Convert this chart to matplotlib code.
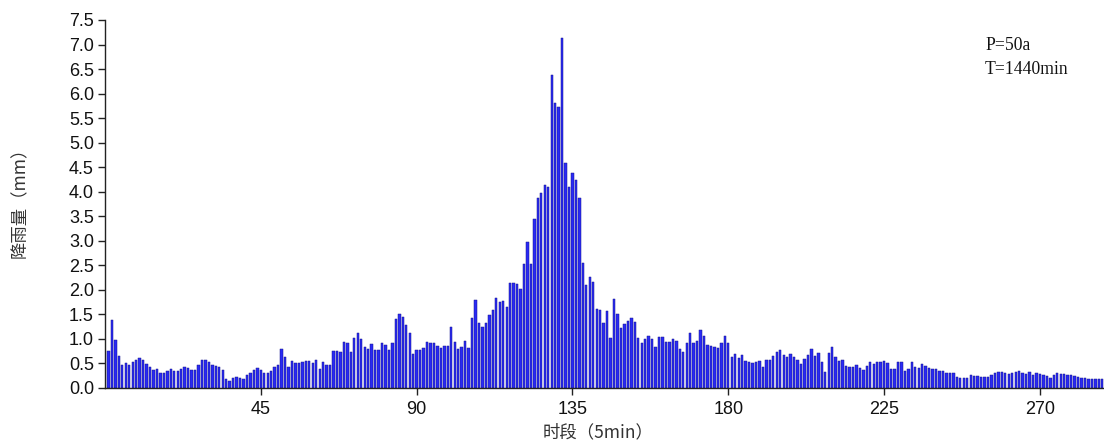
import numpy as np
import matplotlib
matplotlib.use("Agg")
import matplotlib.pyplot as plt
from matplotlib.ticker import FormatStrFormatter

# ---- data -------------------------------------------------------------
rain_mm = [
    0.75, 1.38, 0.98, 0.65, 0.47, 0.51, 0.46, 0.53, 0.57, 0.62,
    0.58, 0.48, 0.42, 0.36, 0.39, 0.31, 0.31, 0.35, 0.39, 0.35,
    0.35, 0.39, 0.43, 0.41, 0.37, 0.36, 0.46, 0.57, 0.58, 0.54,
    0.47, 0.45, 0.42, 0.37, 0.18, 0.15, 0.21, 0.23, 0.21, 0.18,
    0.26, 0.31, 0.36, 0.41, 0.37, 0.30, 0.30, 0.35, 0.43, 0.47,
    0.79, 0.63, 0.43, 0.55, 0.50, 0.50, 0.52, 0.55, 0.55, 0.50,
    0.57, 0.38, 0.52, 0.47, 0.46, 0.75, 0.75, 0.73, 0.94, 0.91,
    0.73, 1.01, 1.13, 0.99, 0.84, 0.79, 0.90, 0.77, 0.77, 0.92,
    0.88, 0.77, 0.91, 1.40, 1.51, 1.45, 1.28, 1.13, 0.69, 0.77,
    0.77, 0.81, 0.94, 0.91, 0.91, 0.86, 0.81, 0.86, 0.86, 1.25,
    0.94, 0.79, 0.84, 0.96, 0.81, 1.42, 1.79, 1.32, 1.25, 1.32,
    1.49, 1.59, 1.83, 1.76, 1.78, 1.66, 2.13, 2.15, 2.11, 2.01,
    2.52, 2.98, 2.52, 3.44, 3.87, 3.97, 4.14, 4.10, 6.38, 5.80,
    5.72, 7.14, 4.58, 4.10, 4.38, 4.23, 3.87, 2.55, 2.10, 2.27,
    2.17, 1.60, 1.58, 1.32, 1.56, 1.01, 1.81, 1.50, 1.23, 1.30,
    1.37, 1.42, 1.35, 1.01, 0.91, 0.99, 1.05, 1.00, 0.84, 1.03,
    1.03, 0.94, 0.93, 1.00, 0.96, 0.79, 0.74, 0.91, 1.13, 0.91,
    0.96, 1.18, 1.05, 0.88, 0.86, 0.83, 0.82, 0.91, 1.05, 0.91,
    0.64, 0.69, 0.62, 0.67, 0.56, 0.52, 0.50, 0.52, 0.55, 0.43,
    0.57, 0.57, 0.66, 0.73, 0.77, 0.67, 0.64, 0.69, 0.63, 0.58,
    0.48, 0.59, 0.67, 0.79, 0.65, 0.72, 0.52, 0.33, 0.71, 0.84,
    0.64, 0.55, 0.57, 0.45, 0.43, 0.42, 0.47, 0.40, 0.37, 0.45,
    0.52, 0.48, 0.52, 0.54, 0.55, 0.50, 0.38, 0.38, 0.54, 0.54,
    0.35, 0.38, 0.52, 0.42, 0.40, 0.48, 0.45, 0.40, 0.38, 0.38,
    0.35, 0.35, 0.30, 0.30, 0.30, 0.23, 0.20, 0.20, 0.20, 0.26,
    0.24, 0.24, 0.23, 0.22, 0.23, 0.26, 0.30, 0.33, 0.32, 0.30,
    0.28, 0.30, 0.32, 0.34, 0.30, 0.28, 0.33, 0.26, 0.30, 0.28,
    0.26, 0.24, 0.20, 0.26, 0.30, 0.29, 0.28, 0.27, 0.26, 0.24,
    0.22, 0.21, 0.20, 0.18, 0.18, 0.18, 0.18, 0.18,
]
periods = list(range(1, len(rain_mm) + 1))
x_ticks = [45, 90, 135, 180, 225, 270]
y_ticks = [i * 0.5 for i in range(16)]
y_label = "降雨量（mm）"
x_label = "时段（5min）"
note_lines = ["P=50a", "T=1440min"]

# ---- figure -----------------------------------------------------------
W, H = 1104, 443
fig = plt.figure(figsize=(W / 100, H / 100), dpi=100)
ax = fig.add_axes([105 / W, (H - 388) / H, (1104 - 105) / W, 368 / H])

ax.bar(periods, rain_mm, width=0.68, color="#2a2af5",
       edgecolor="#16168c", linewidth=0.35)

ax.set_xlim(0, 288.5)
ax.set_ylim(0, 7.5)
ax.set_xticks(x_ticks)
ax.set_yticks(y_ticks)
ax.yaxis.set_major_formatter(FormatStrFormatter("%.1f"))

for s in ("top", "right"):
    ax.spines[s].set_visible(False)
for s in ("left", "bottom"):
    ax.spines[s].set_color("#222222")
    ax.spines[s].set_linewidth(1.0)

ax.tick_params(axis="both", direction="out", length=5, width=1,
               color="#222222", labelsize=13, labelcolor="#111111")
for lab in ax.get_xticklabels() + ax.get_yticklabels():
    lab.set_fontfamily(["Liberation Sans", "DejaVu Sans"])
ax.tick_params(axis="y", pad=3)
ax.tick_params(axis="x", pad=4)

cjk = ["Noto Sans CJK SC", "DejaVu Sans"]
fig.text(20 / W, 1 - 198 / H, y_label, rotation=90, ha="center",
         va="center", fontsize=12.5, family=cjk, color="#333333")
fig.text(598 / W, 1 - 432 / H, x_label, ha="center", va="center",
         fontsize=12.5, family=cjk, color="#333333")

serif = ["Liberation Serif", "DejaVu Serif"]
fig.text(985 / W, 1 - 46 / H, note_lines[0], ha="left", va="center",
         fontsize=12.7, family=serif, color="#111111")
fig.text(985 / W, 1 - 70 / H, note_lines[1], ha="left", va="center",
         fontsize=12.7, family=serif, color="#111111")

fig.savefig("out.png", dpi=100)
